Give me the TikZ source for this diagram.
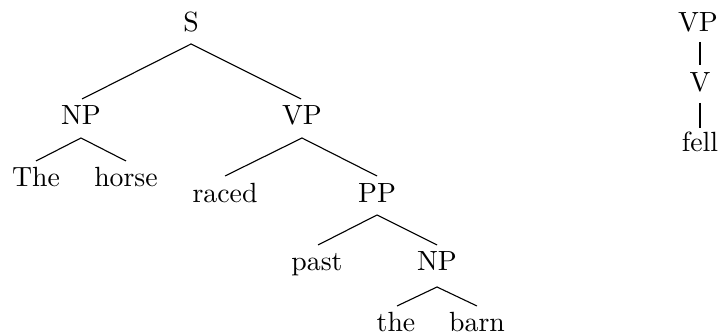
\documentclass[tikz,border=0pt]{standalone}
\usetikzlibrary{calc}
\begin{document}
\begin{tikzpicture}[x=0.36pt,y=-0.36pt,
  lbl/.style={anchor=base,inner sep=0pt,font=\fontsize{10}{12}\selectfont},
  edge/.style={draw=black,line width=0.4pt}]
\useasboundingbox (0,0) rectangle (720,332);

% main tree
\node[lbl] (s)     at (191,32)  {S};
\node[lbl] (np1)   at (81,125)  {NP};
\node[lbl] (vp1)   at (302,125) {VP};
\node[lbl] (the1)  at (36,187)  {The};
\node[lbl] (horse) at (126,187) {horse};
\node[lbl] (raced) at (225,203) {raced};
\node[lbl] (pp)    at (377,203) {PP};
\node[lbl] (past)  at (317,271) {past};
\node[lbl] (np2)   at (437,271) {NP};
\node[lbl] (the2)  at (396,332) {the};
\node[lbl] (barn)  at (477,332) {barn};

% small tree on the right
\node[lbl] (vp2)  at (698,32)  {VP};
\node[lbl] (v)    at (700,92)  {V};
\node[lbl] (fell) at (700,152) {fell};

% branches
\draw[edge] ($(s.base)+(0,12)$) -- ($(np1.base)+(1,-26)$);
\draw[edge] ($(s.base)+(0,12)$) -- ($(vp1.base)+(-1,-26)$);
\draw[edge] ($(np1.base)+(0,13)$) -- ($(the1.base)+(0,-26)$);
\draw[edge] ($(np1.base)+(0,13)$) -- ($(horse.base)+(0,-26)$);
\draw[edge] ($(vp1.base)+(0,13)$) -- ($(raced.base)+(0,-27)$);
\draw[edge] ($(vp1.base)+(0,13)$) -- ($(pp.base)+(0,-27)$);
\draw[edge] ($(pp.base)+(0,12)$) -- ($(past.base)+(1,-26)$);
\draw[edge] ($(pp.base)+(0,12)$) -- ($(np2.base)+(0,-26)$);
\draw[edge] ($(np2.base)+(0,16)$) -- ($(the2.base)+(1,-26)$);
\draw[edge] ($(np2.base)+(0,16)$) -- ($(barn.base)+(0,-26)$);
\draw[edge] ($(vp2.base)+(2,10)$) -- ($(v.base)+(0,-27)$);
\draw[edge] ($(v.base)+(0,11)$) -- ($(fell.base)+(0,-24)$);
\end{tikzpicture}
\end{document}
